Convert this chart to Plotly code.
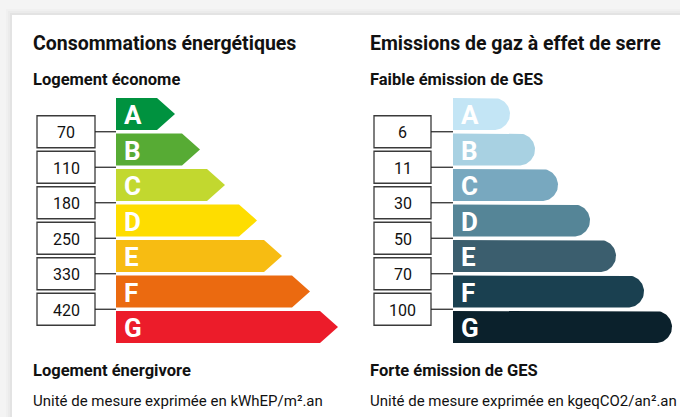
import numpy as np
import plotly.graph_objects as go

# ---------------- data ----------------
classes = ["A", "B", "C", "D", "E", "F", "G"]
energy_thresholds = [70, 110, 180, 250, 330, 420]
ges_thresholds = [6, 11, 30, 50, 70, 100]
energy_colors = ["#00923f", "#57ab34", "#c2d82f", "#fedd00", "#f7bc12", "#eb6a10", "#ec1c2a"]
ges_colors = ["#c3e5f5", "#a8d1e2", "#78a8bf", "#558597", "#3b5e6e", "#1a4050", "#0b212c"]

energy_title = "Consommations énergétiques"
energy_top = "Logement économe"
energy_bottom = "Logement énergivore"
energy_unit = "Unité de mesure exprimée en kWhEP/m².an"
ges_title = "Emissions de gaz à effet de serre"
ges_top = "Faible émission de GES"
ges_bottom = "Forte émission de GES"
ges_unit = "Unité de mesure exprimée en kgeqCO2/an².an"

# ---------------- geometry (pixel-like axis units) ----------------
W, H = 680, 417
bar_top0, bar_h, pitch = 98, 32, 35.5
left_bar_x0, right_bar_x0 = 116, 453
left_bar_ends = [175, 200, 225, 257, 282, 310, 338]
right_bar_ends = [510, 535, 558, 590, 616, 644, 672]
arrow_depth = 18
left_box = (37, 95)
right_box = (374, 431)

FONT = "Roboto, DejaVu Sans, sans-serif"

fig = go.Figure()

# card background with soft shadow
shapes = []
for k, a in enumerate([0.015, 0.02, 0.03]):
    d = 6 - 2 * k
    shapes.append(dict(type="rect", xref="x", yref="y", x0=12 - d, y0=15 - d, x1=W + 20, y1=H + 20,
                       fillcolor=f"rgba(0,0,0,{a})", line=dict(width=0), layer="below"))
shapes.append(dict(type="rect", xref="x", yref="y", x0=12, y0=15, x1=W + 20, y1=H + 20,
                   fillcolor="white", line=dict(width=0), layer="below"))

annotations = []

def add_text(x, y, text, size, color="#111", bold=False, anchor="left", family=FONT):
    annotations.append(dict(x=x, y=y, xref="x", yref="y", text=(f"<b>{text}</b>" if bold else text),
                            showarrow=False, xanchor=anchor, yanchor="middle",
                            font=dict(family=family, size=size, color=color)))

# energy arrows
for i, (c, col, xe) in enumerate(zip(classes, energy_colors, left_bar_ends)):
    t = bar_top0 + i * pitch
    b = t + bar_h
    cy = (t + b) / 2
    xs = [left_bar_x0, xe - arrow_depth, xe, xe - arrow_depth, left_bar_x0, left_bar_x0]
    ys = [t, t, cy, b, b, t]
    fig.add_trace(go.Scatter(x=xs, y=ys, fill="toself", fillcolor=col, mode="lines",
                             line=dict(width=0), hoverinfo="skip", showlegend=False))
    add_text(left_bar_x0 + 6, cy + 1, c, 26, color="white", bold=True)

# GES rounded bars
for i, (c, col, xe) in enumerate(zip(classes, ges_colors, right_bar_ends)):
    t = bar_top0 + i * pitch
    b = t + bar_h
    cy = (t + b) / 2
    r = bar_h / 2
    th = np.linspace(-np.pi / 2, np.pi / 2, 40)
    xs = [right_bar_x0] + list(xe - r + r * np.cos(th)) + [right_bar_x0, right_bar_x0]
    ys = [t] + list(cy + r * np.sin(th)) + [b, t]
    fig.add_trace(go.Scatter(x=xs, y=ys, fill="toself", fillcolor=col, mode="lines",
                             line=dict(width=0), hoverinfo="skip", showlegend=False))
    add_text(right_bar_x0 + 6, cy + 1, c, 26, color="white", bold=True)

# threshold boxes
def add_boxes(values, box, bar_x0):
    for i, v in enumerate(values):
        cy = bar_top0 + bar_h + (pitch - bar_h) / 2 + i * pitch
        shapes.append(dict(type="rect", xref="x", yref="y", x0=box[0], x1=box[1], y0=cy - 16, y1=cy + 16,
                           fillcolor="white", line=dict(color="#3a3a3a", width=1.3)))
        shapes.append(dict(type="line", xref="x", yref="y", x0=box[1], x1=bar_x0, y0=cy, y1=cy,
                           line=dict(color="#222", width=1.2)))
        add_text((box[0] + box[1]) / 2, cy + 1, str(v), 16, color="#111", anchor="center")

add_boxes(energy_thresholds, left_box, left_bar_x0)
add_boxes(ges_thresholds, right_box, right_bar_x0)

# headings
add_text(31, 43, energy_title, 19.5, bold=True)
add_text(31, 79, energy_top, 16.5, bold=True)
add_text(31, 370, energy_bottom, 16.5, bold=True)
add_text(31, 401, energy_unit, 15)
add_text(368, 43, ges_title, 19.5, bold=True)
add_text(368, 79, ges_top, 16.5, bold=True)
add_text(368, 370, ges_bottom, 16.5, bold=True)
add_text(368, 401, ges_unit, 15)

fig.update_layout(
    width=W, height=H, margin=dict(l=0, r=0, t=0, b=0),
    paper_bgcolor="#f4f4f4", plot_bgcolor="rgba(0,0,0,0)",
    xaxis=dict(range=[0, W], visible=False, fixedrange=True),
    yaxis=dict(range=[H, 0], visible=False, fixedrange=True),
    shapes=shapes, annotations=annotations, showlegend=False,
)

fig.write_html("out.html", config={"displayModeBar": False},
               post_script="document.body.style.margin='0';document.body.style.background='#f4f4f4';")
